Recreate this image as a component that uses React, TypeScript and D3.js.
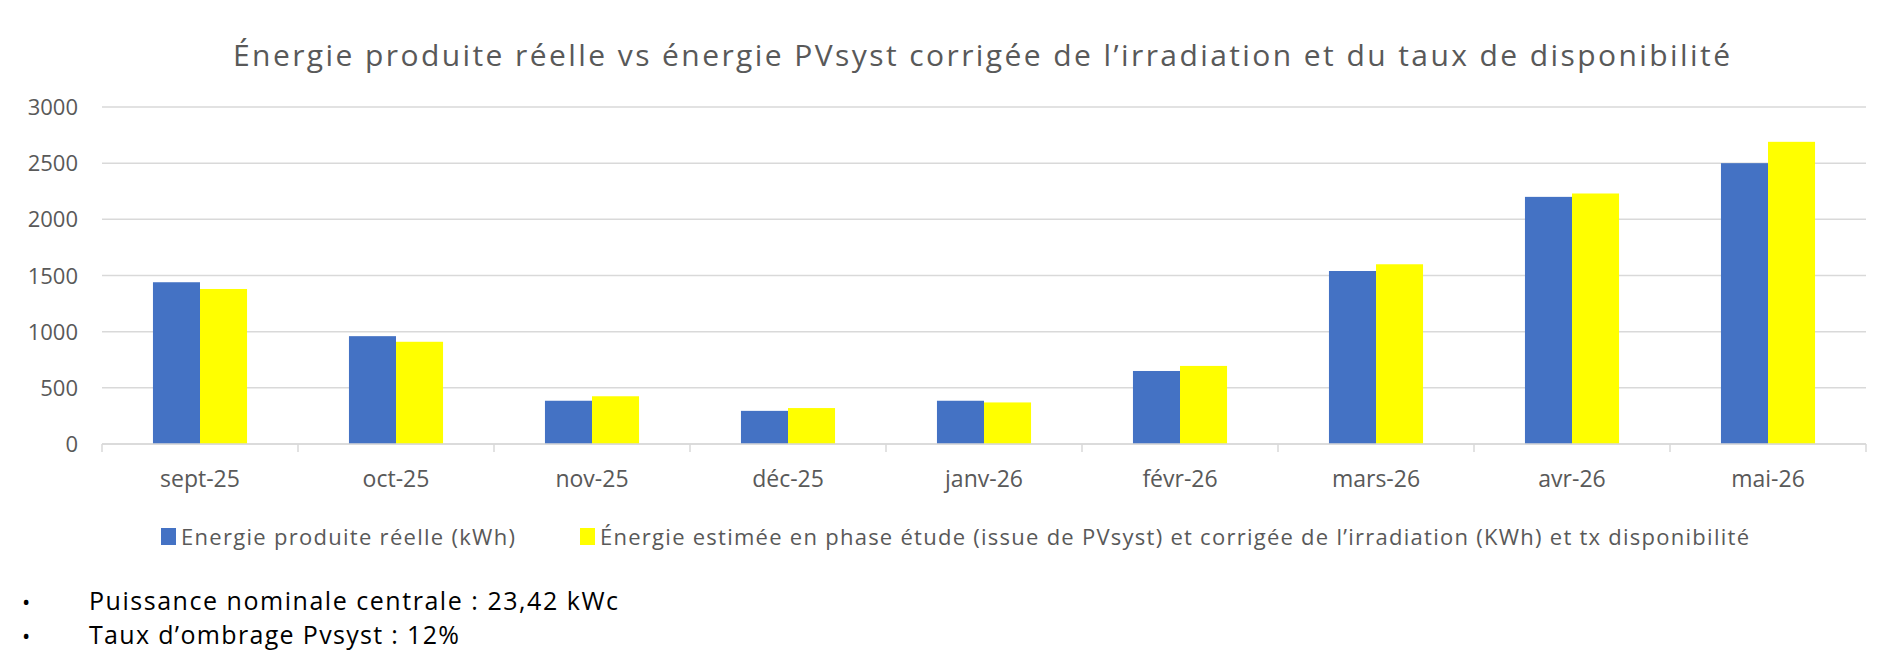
import React from 'react';
import * as d3 from 'd3';

const months = ['sept-25', 'oct-25', 'nov-25', 'déc-25', 'janv-26', 'févr-26', 'mars-26', 'avr-26', 'mai-26'];
const reel = [1440, 960, 385, 295, 385, 650, 1540, 2200, 2500];
const pvsyst = [1380, 910, 425, 320, 370, 695, 1600, 2230, 2690];
const yTicks = [0, 500, 1000, 1500, 2000, 2500, 3000];
const seriesNames = [
  'Energie produite réelle (kWh)',
  'Énergie estimée en phase étude (issue de PVsyst) et corrigée de l’irradiation (KWh) et tx disponibilité',
];
const colors = ['#4472C4', '#FFFF00'];
const notes = ['Puissance nominale centrale : 23,42 kWc', 'Taux d’ombrage Pvsyst : 12%'];
const noteWidths = [529, 370];

const W = 1900, H = 671;
const left = 102, right = 1866, top = 107, bottom = 444;

export default function App() {
  const x = d3.scaleBand<string>().domain(months).range([left, right]).paddingInner(0.52).paddingOuter(0.26);
  const y = d3.scaleLinear().domain([0, 3000]).range([bottom, top]);
  const bw = x.bandwidth() / 2;
  const step = (right - left) / months.length;
  const font = '"Open Sans", "Noto Sans", sans-serif';
  return (
    <svg width={W} height={H} style={{ position: 'absolute', left: 0, top: 0, background: '#fff' }} fontFamily={font}>
      <text x={233} y={66} fontSize={30} fill="#595959" textLength={1497} lengthAdjust="spacing">
        Énergie produite réelle vs énergie PVsyst corrigée de l’irradiation et du taux de disponibilité
      </text>
      {yTicks.map(t => (
        <g key={t}>
          <line x1={left} x2={right} y1={y(t)} y2={y(t)} stroke="#d9d9d9" strokeWidth={1.5} />
          <text x={78} y={y(t) + 8} textAnchor="end" fontSize={22} fill="#595959">{t}</text>
        </g>
      ))}
      {months.map((m, i) => (
        <g key={m}>
          <rect x={x(m)!} y={y(reel[i])} width={bw} height={bottom - y(reel[i])} fill={colors[0]} />
          <rect x={x(m)! + bw} y={y(pvsyst[i])} width={bw} height={bottom - y(pvsyst[i])} fill={colors[1]} />
          <text x={x(m)! + bw} y={487} textAnchor="middle" fontSize={23} fill="#595959">{m}</text>
        </g>
      ))}
      <line x1={left} x2={right} y1={bottom} y2={bottom} stroke="#d9d9d9" strokeWidth={1.5} />
      {d3.range(months.length + 1).map(i => (
        <line key={i} x1={left + i * step} x2={left + i * step} y1={bottom} y2={bottom + 8} stroke="#d9d9d9" strokeWidth={1.5} />
      ))}
      <rect x={161} y={528} width={15} height={17} fill={colors[0]} />
      <text x={181} y={545} fontSize={22} fill="#595959" textLength={334} lengthAdjust="spacing">{seriesNames[0]}</text>
      <rect x={580} y={528} width={15} height={17} fill={colors[1]} />
      <text x={600} y={545} fontSize={22} fill="#595959" textLength={1149} lengthAdjust="spacing">{seriesNames[1]}</text>
      {notes.map((n, i) => (
        <g key={n}>
          <text x={22} y={610 + i * 34} fontSize={22} fill="#000">•</text>
          <text x={89} y={610 + i * 34} fontSize={25} fill="#000" textLength={noteWidths[i]} lengthAdjust="spacing">{n}</text>
        </g>
      ))}
    </svg>
  );
}
